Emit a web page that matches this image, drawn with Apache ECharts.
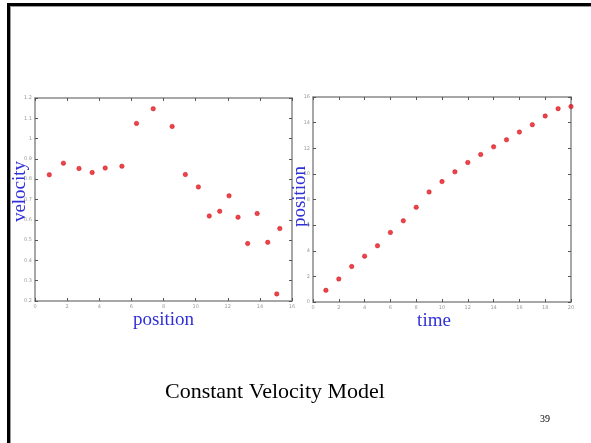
<!DOCTYPE html>
<html>
<head>
<meta charset="utf-8">
<script src="https://cdn.jsdelivr.net/npm/echarts@6/dist/echarts.min.js"></script>
<style>html,body{margin:0;padding:0;background:#fff;}#c{width:591px;height:443px;}</style>
</head>
<body>
<div id="c"></div>
<script>
// time steps (right plot x)
var timeSteps = [1,2,3,4,5,6,7,8,9,10,11,12,13,14,15,16,17,18,19,20];
// position at each time step (right plot y)
var positions = [0.91,1.80,2.77,3.58,4.39,5.43,6.34,7.39,8.59,9.40,10.16,10.89,11.51,12.11,12.66,13.26,13.84,14.52,15.09,15.25];
// left plot x positions as read
var velPositions = [0.89,1.77,2.74,3.56,4.37,5.41,6.32,7.36,8.54,9.36,10.17,10.85,11.50,12.08,12.64,13.24,13.83,14.49,15.05,15.24];
// velocity (left plot y)
var velocities = [0.822,0.879,0.853,0.833,0.855,0.864,1.075,1.147,1.060,0.823,0.762,0.619,0.642,0.718,0.613,0.483,0.631,0.489,0.235,0.557];

var leftX = {min:0, max:16, interval:2};
var leftY = {min:0.2, max:1.2, interval:0.1};
var rightX = {min:0, max:20, interval:2};
var rightY = {min:0, max:16, interval:2};

var velData = velPositions.map(function(p,i){return [p, velocities[i]];});
var posData = timeSteps.map(function(t,i){return [t, positions[i]];});

var axisColor = '#8a8a8a';
function nameStyle(pad){
  return {fontFamily:'Liberation Serif', fontSize:19, color:'#3030d8', padding:pad};
}
function baseAxis(range, grid, pos, showLabel, extra){
  var a = {
    type:'value', gridIndex:grid, position:pos,
    min:range.min, max:range.max, interval:range.interval,
    splitLine:{show:false},
    nameMoveOverlap:false,
    axisLine:{show:true, onZero:false, lineStyle:{color:axisColor, width:1.5}},
    axisTick:{show:true, inside:true, length:3, lineStyle:{color:'#555', width:1}},
    axisLabel:{show:showLabel, fontSize:5, color:'#9a9a9a', margin:3, fontFamily:'DejaVu Sans'}
  };
  for (var k in extra) a[k] = extra[k];
  return a;
}

var chart = echarts.init(document.getElementById('c'), null, {renderer:'canvas'});
chart.setOption({
  backgroundColor:'#ffffff',
  animation:false,
  title:[
    {text:'Constant Velocity Model', left:160, top:376, textStyle:{fontFamily:'Liberation Serif', fontSize:22, fontWeight:'normal', color:'#000'}},
    {text:'39', left:535, top:409, textStyle:{fontFamily:'Liberation Serif', fontSize:10, fontWeight:'normal', color:'#000'}}
  ],
  grid:[
    {left:35, top:98, width:257, height:203, show:true, backgroundColor:'#fff', borderWidth:0},
    {left:313, top:97, width:258, height:205, show:true, backgroundColor:'#fff', borderWidth:0}
  ],
  xAxis:[
    baseAxis(leftX, 0, 'bottom', true, {name:'position', nameLocation:'middle', nameGap:10, nameTextStyle:nameStyle([0,0,0,0])}),
    baseAxis(leftX, 0, 'top', false, {}),
    baseAxis(rightX, 1, 'bottom', true, {name:'time', nameLocation:'middle', nameGap:10, nameTextStyle:nameStyle([0,16,0,0])}),
    baseAxis(rightX, 1, 'top', false, {})
  ],
  yAxis:[
    baseAxis(leftY, 0, 'left', true, {name:'velocity', nameLocation:'middle', nameGap:5, nameTextStyle:nameStyle([0,0,0,16])}),
    baseAxis(leftY, 0, 'right', false, {}),
    baseAxis(rightY, 1, 'left', true, {name:'position', nameLocation:'middle', nameGap:3, nameTextStyle:nameStyle([0,0,0,6])}),
    baseAxis(rightY, 1, 'right', false, {})
  ],
  series:[
    {type:'scatter', xAxisIndex:0, yAxisIndex:0, data:velData, symbol:'circle', symbolSize:4.5,
     itemStyle:{color:'#e8141c', borderColor:'#c00010', borderWidth:0.5}},
    {type:'scatter', xAxisIndex:2, yAxisIndex:2, data:posData, symbol:'circle', symbolSize:4.5,
     itemStyle:{color:'#e8141c', borderColor:'#c00010', borderWidth:0.5}}
  ],
  graphic:[
    {type:'rect', shape:{x:7, y:3, width:3, height:440}, style:{fill:'#000'}},
    {type:'rect', shape:{x:7, y:3, width:584, height:3}, style:{fill:'#000'}},
    {type:'rect', shape:{x:10, y:6, width:1, height:437}, style:{fill:'#999'}},
    {type:'rect', shape:{x:10, y:6, width:581, height:1}, style:{fill:'#999'}}
  ]
});
</script>
</body>
</html>
